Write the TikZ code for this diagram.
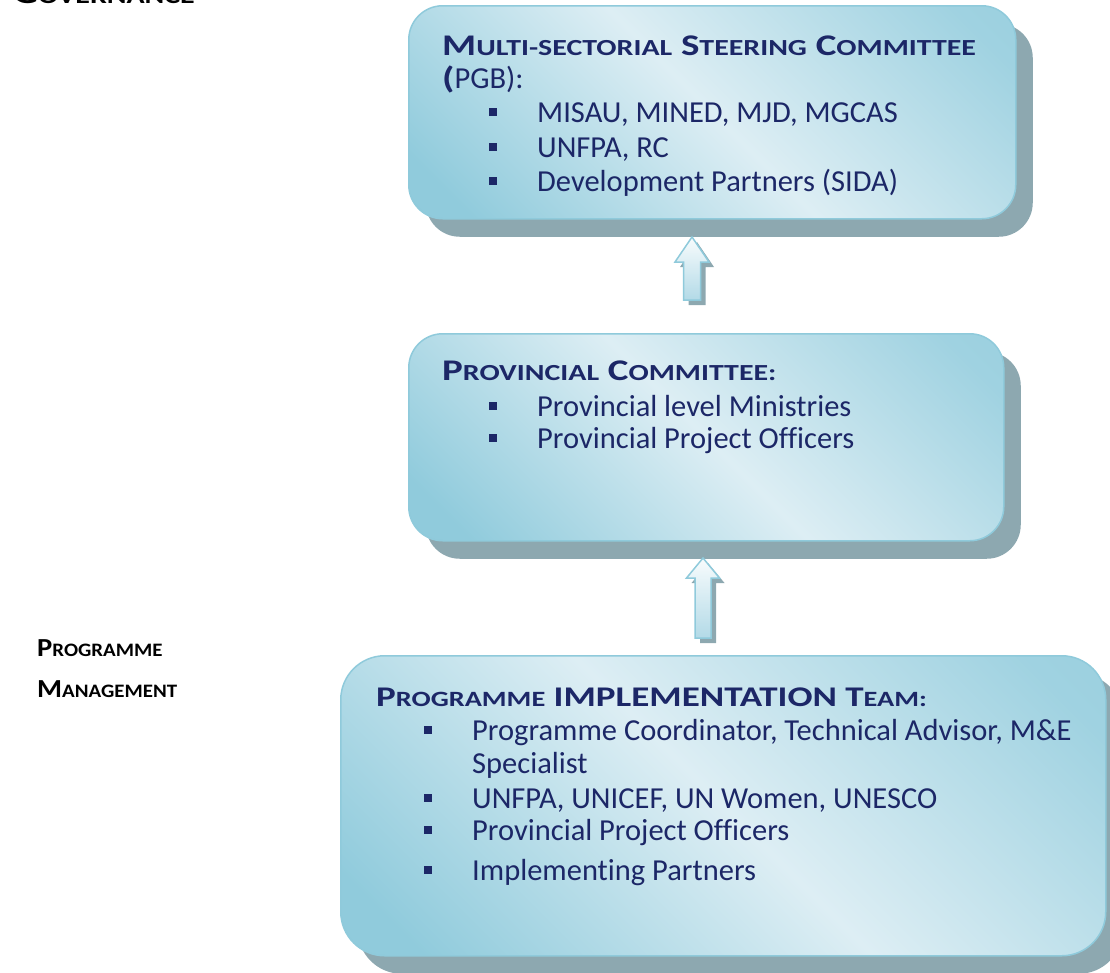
\documentclass[tikz,border=0pt]{standalone}
\usepackage{fontspec}
\setmainfont{Carlito}[Ligatures=NoCommon]
\newfontfamily\hfont[FakeStretch=1.3]{Carlito}
\newfontfamily\lfont[FakeStretch=1.1]{Carlito}
\usetikzlibrary{shadows}
\definecolor{navy}{HTML}{1C2767}
\definecolor{bdark}{HTML}{90CBDC}
\definecolor{blight}{HTML}{DDEEF4}
\definecolor{bedge}{HTML}{8FCADB}
\definecolor{shad}{HTML}{8DA8B0}
\definecolor{awhite}{HTML}{F8FCFD}
\definecolor{ablue}{HTML}{B3DAE7}
\pgfdeclarehorizontalshading{boxshade}{100bp}{color(0bp)=(bdark); color(20bp)=(bdark); color(50bp)=(blight); color(80bp)=(bdark!80!blight); color(100bp)=(bdark)}
\newcommand\hsc[1]{{\fontsize{23}{27}\selectfont #1}}
\newcommand\hscb[1]{{\fontsize{21.8}{26}\selectfont #1}}
\newcommand\lsc[1]{{\fontsize{19}{23}\selectfont #1}}
\begin{document}
\begin{tikzpicture}[x=1pt,y=-1pt,
  box/.style={rectangle, rounded corners=34pt, draw=bedge, line width=1.5pt,
    shading=boxshade, shading angle=45, inner sep=0pt, anchor=north west,
    drop shadow={shadow xshift=17pt, shadow yshift=-18pt, fill=shad, opacity=1}},
  txt/.style={anchor=base west, inner sep=0pt, text=navy, font=\fontsize{30.5}{36}\selectfont},
  head/.style={txt, font=\hfont\bfseries\fontsize{30}{36}\selectfont},
  lbl/.style={anchor=base west, inner sep=0pt, text=black, font=\lfont\bfseries\fontsize{26}{30}\selectfont},
  bul/.style={rectangle, fill=navy, minimum size=8pt, inner sep=0pt},
  arr/.style={draw=bedge, line width=1.5pt, top color=awhite, bottom color=ablue},
  arrshad/.style={fill=shad}
]
\useasboundingbox (0,0) rectangle (1110,972);

% left labels
\begin{scope}
\clip (0,0) rectangle (1110,972);
\node[lbl, font=\hfont\bfseries\fontsize{30}{34}\selectfont] (gov) at (13,3.5) {G{\fontsize{23}{27}\selectfont OVERNANCE}};
\end{scope}
\node[lbl] (pm1) at (37,656) {P\lsc{ROGRAMME}};
\node[lbl] (pm2) at (37,697) {M\lsc{ANAGEMENT}};

% boxes
\node[box, minimum width=607pt, minimum height=213pt] (pgb) at (408,5) {};
\node[box, minimum width=595pt, minimum height=207pt] (prov) at (408,333) {};
\node[box, rounded corners=44pt, minimum width=765pt, minimum height=300pt] (pit) at (340,655) {};

% box 1 text
\node[head] (h1) at (442,55) {M\hsc{ULTI-SECTORIAL} S\hsc{TEERING} C\hsc{OMMITTEE}};
\node[txt] (h1b) at (442,88) {{\hfont\bfseries(}PGB):};
\node[bul] (b11) at (493,112) {}; \node[txt] (t11) at (537,122) {MISAU, MINED, MJD, MGCAS};
\node[bul] (b12) at (493,147) {}; \node[txt] (t12) at (537,157) {UNFPA, RC};
\node[bul] (b13) at (493,181) {}; \node[txt] (t13) at (537,191) {Development Partners (SIDA)};

% box 2 text
\node[head] (h2) at (442,380) {P\hsc{ROVINCIAL} C\hsc{OMMITTEE:}};
\node[bul] (b21) at (493,406) {}; \node[txt] (t21) at (537,416) {Provincial level Ministries};
\node[bul] (b22) at (493,438) {}; \node[txt] (t22) at (537,448) {Provincial Project Officers};

% box 3 text
\node[head, font=\hfont\bfseries\fontsize{28.5}{34}\selectfont] (h3) at (376,706) {P\hscb{ROGRAMME} IMPLEMENTATION T\hscb{EAM:}};
\node[bul] (b31) at (428,730) {}; \node[txt] (t31) at (472,740) {Programme Coordinator, Technical Advisor, M\&E};
\node[txt] (t31b) at (472,773) {Specialist};
\node[bul] (b32) at (428,798) {}; \node[txt] (t32) at (472,808) {UNFPA, UNICEF, UN Women, UNESCO};
\node[bul] (b33) at (428,830) {}; \node[txt] (t33) at (472,840) {Provincial Project Officers};
\node[bul] (b34) at (428,870) {}; \node[txt] (t34) at (472,880) {Implementing Partners};

% block arrows (from lower box up to upper box)
\coordinate (a1tip) at (692,237);
\coordinate (a2tip) at (703,558);
\foreach \tip/\hb/\bot/\hw/\sw in {a1tip/25/63/17/8.5, a2tip/20/80/16.5/8}{
  \fill[arrshad] ([shift={(5,5)}]\tip) -- ++(\hw,\hb) -- ++(-\hw+\sw,0) -- ++(0,\bot-\hb)
     -- ++(-2*\sw,0) -- ++(0,-\bot+\hb) -- ++(-\hw+\sw,0) -- cycle;
  \path[arr] (\tip) -- ++(\hw,\hb) -- ++(-\hw+\sw,0) -- ++(0,\bot-\hb)
     -- ++(-2*\sw,0) -- ++(0,-\bot+\hb) -- ++(-\hw+\sw,0) -- cycle;
}
\end{tikzpicture}
\end{document}
